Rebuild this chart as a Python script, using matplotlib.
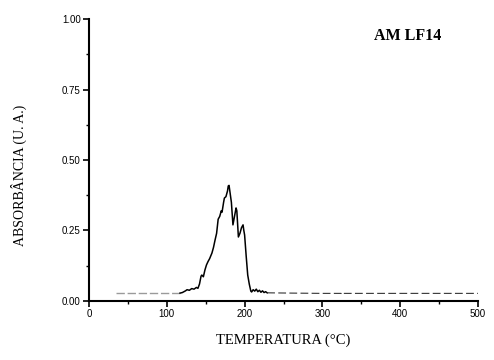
import matplotlib.pyplot as plt
from matplotlib.ticker import MultipleLocator

# (temperature in C, absorbance in a.u.)
temp_start = [35, 117]
abs_start = [0.028, 0.028]

temp_peak = [117, 120, 124, 126, 129, 132, 135, 138, 140, 142, 144, 145, 147,
             149, 151, 153, 155, 158, 160, 162, 164, 166, 168, 170, 171, 173,
             174, 176, 178, 179, 180, 181, 183, 185, 187, 189, 190, 192, 194,
             196, 198, 199, 200, 202, 204, 206, 208, 209, 211, 213, 215, 217,
             219, 221, 223, 225, 227, 229]
abs_peak = [0.028, 0.030, 0.036, 0.040, 0.038, 0.044, 0.042, 0.048, 0.045,
            0.060, 0.088, 0.092, 0.086, 0.110, 0.128, 0.140, 0.150, 0.170,
            0.190, 0.216, 0.240, 0.290, 0.300, 0.320, 0.315, 0.350, 0.365,
            0.370, 0.390, 0.408, 0.410, 0.390, 0.350, 0.270, 0.300, 0.330,
            0.320, 0.227, 0.240, 0.260, 0.270, 0.250, 0.234, 0.160, 0.092,
            0.060, 0.035, 0.032, 0.040, 0.035, 0.042, 0.033, 0.038, 0.031,
            0.036, 0.030, 0.033, 0.029]

temp_tail = [229, 260, 300, 324, 326, 328, 360, 400, 450, 500]
abs_tail = [0.029, 0.028, 0.027, 0.027, 0.022, 0.027, 0.027, 0.027, 0.027, 0.027]

x_ticks = [0, 100, 200, 300, 400, 500]
y_ticks = [0.0, 0.25, 0.5, 0.75, 1.0]
y_labels = ['0.00', '0.25', '0.50', '0.75', '1.00']

fig = plt.figure(figsize=(4.94, 3.6), dpi=100)
ax = fig.add_axes([0.1802, 0.1639, 0.7874, 0.7833])

ax.plot(temp_start, abs_start, color='#9a9a9a', lw=1.0, dashes=(6, 2))
ax.plot(temp_peak, abs_peak, color='black', lw=1.1)
ax.plot(temp_tail, abs_tail, color='#333333', lw=0.8, dashes=(7, 3))

ax.set_xlim(0, 500)
ax.set_ylim(0, 1.0)
ax.spines['top'].set_visible(False)
ax.spines['right'].set_visible(False)
ax.spines['left'].set_linewidth(1.5)
ax.spines['bottom'].set_linewidth(1.5)

ax.set_xticks(x_ticks)
ax.set_yticks(y_ticks)
ax.set_yticklabels(y_labels)
ax.xaxis.set_minor_locator(MultipleLocator(50))
ax.yaxis.set_minor_locator(MultipleLocator(0.125))
ax.tick_params(which='major', direction='out', length=4, width=1.2,
               labelsize=7, pad=2)
ax.tick_params(which='minor', direction='out', length=2.5, width=1.0)
for lab in ax.get_xticklabels() + ax.get_yticklabels():
    lab.set_family('Liberation Sans')

ax.set_xlabel('TEMPERATURA (°C)', family='Liberation Serif', fontsize=10.5,
              labelpad=10)
ax.set_ylabel('ABSORBÂNCIA (U. A.)', family='Liberation Serif', fontsize=10)
ax.yaxis.set_label_coords(-0.16, 0.447)

ax.text(0.82, 0.94, 'AM LF14', transform=ax.transAxes, family='Liberation Serif',
        fontsize=11.5, fontweight='bold', ha='center', va='center')

fig.savefig('out.png', dpi=100)
